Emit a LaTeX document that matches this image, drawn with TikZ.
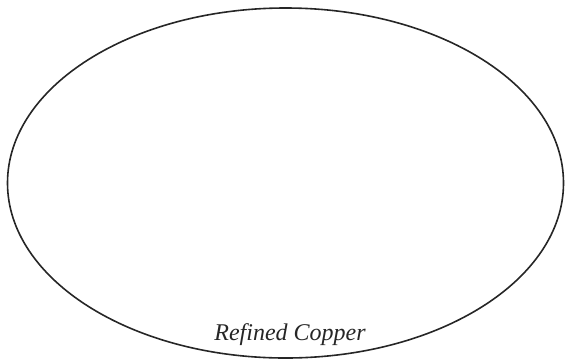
\documentclass[tikz,border=0pt]{standalone}
\usepackage{fontspec}
\setmainfont{Liberation Serif}
\usetikzlibrary{shapes.geometric}
\begin{document}
\begin{tikzpicture}[x=1pt,y=-1pt,
  outline/.style={draw=black!85,line width=1.6pt,ellipse,inner sep=0pt,minimum width=556pt,minimum height=350pt},
  label/.style={font=\fontsize{24}{27}\selectfont\itshape,text=black!85,inner sep=0pt,anchor=base}]
\useasboundingbox (0,0) rectangle (567,360);
\node[outline] (oval) at (285.5,183) {};
\node[label] (name) at (290,340) {Refined Copper};
\end{tikzpicture}
\end{document}
